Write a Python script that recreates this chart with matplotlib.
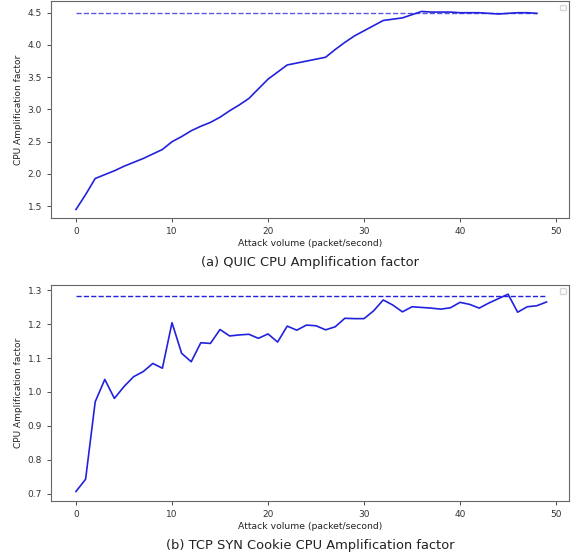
import matplotlib.pyplot as plt
import numpy as np

# QUIC CPU amplification (top)
quic_x = list(range(0, 49))
quic_y = [1.45, 1.68, 1.93, 1.99, 2.05, 2.12, 2.18, 2.24, 2.31, 2.38,
          2.50, 2.58, 2.67, 2.74, 2.80, 2.88, 2.98, 3.07, 3.17, 3.32,
          3.47, 3.58, 3.69, 3.72, 3.75, 3.78, 3.81, 3.93, 4.04, 4.14,
          4.22, 4.30, 4.38, 4.40, 4.42, 4.47, 4.52, 4.51, 4.51, 4.51,
          4.50, 4.50, 4.50, 4.49, 4.48, 4.49, 4.50, 4.50, 4.49]
quic_ref = 4.5

# TCP SYN cookie CPU amplification (bottom)
tcp_x = list(range(0, 50))
tcp_y = [0.707, 0.743, 0.971, 1.037, 0.981, 1.016, 1.045, 1.060, 1.084, 1.070,
         1.204, 1.114, 1.089, 1.145, 1.143, 1.184, 1.165, 1.168, 1.170, 1.158,
         1.171, 1.147, 1.194, 1.182, 1.197, 1.195, 1.183, 1.192, 1.217, 1.216,
         1.216, 1.239, 1.271, 1.256, 1.236, 1.251, 1.249, 1.247, 1.244, 1.248,
         1.264, 1.258, 1.247, 1.262, 1.275, 1.288, 1.235, 1.251, 1.254, 1.265]
tcp_ref = 1.283

xlabel = "Attack volume (packet/second)"
ylabel = "CPU Amplification factor"
captions = ["(a) QUIC CPU Amplification factor",
            "(b) TCP SYN Cookie CPU Amplification factor"]

fig = plt.figure(figsize=(5.74, 5.58), dpi=100)
ax1 = fig.add_axes([0.0889, 0.609, 0.9024, 0.389])
ax2 = fig.add_axes([0.0889, 0.1022, 0.9024, 0.387])

panels = [(ax1, quic_x, quic_y, quic_ref, 0.75),
          (ax2, tcp_x, tcp_y, tcp_ref, 1.0)]

for i, (ax, x, y, ref, a) in enumerate(panels):
    ax.plot(x, y, color="#2222dd", lw=1.2)
    ax.hlines(ref, x[0], x[-1], colors="#2222dd", linestyles="--", lw=1.0, alpha=a)
    ax.set_xlim(-2.6, 51.35)
    ax.set_xticks([0, 10, 20, 30, 40, 50])
    ax.tick_params(labelsize=6.5, length=3, width=0.6, colors="#333333")
    ax.set_xlabel(xlabel, fontsize=6.7, labelpad=2, color="#222222")
    ax.set_ylabel(ylabel, fontsize=6.5, labelpad=3, color="#222222")
    for s in ax.spines.values():
        s.set_color("#666666")
        s.set_linewidth(0.8)
    ax.legend(loc="upper right", fontsize=5)
    ax.text(0.5, -0.205, captions[i], transform=ax.transAxes,
            ha="center", va="center", fontsize=9.4, color="#222222")

ax1.set_ylim(1.315, 4.68)
ax1.set_yticks([1.5, 2.0, 2.5, 3.0, 3.5, 4.0, 4.5])
ax2.set_ylim(0.679, 1.315)
ax2.set_yticks([0.7, 0.8, 0.9, 1.0, 1.1, 1.2, 1.3])

plt.savefig("out.png", dpi=100)
